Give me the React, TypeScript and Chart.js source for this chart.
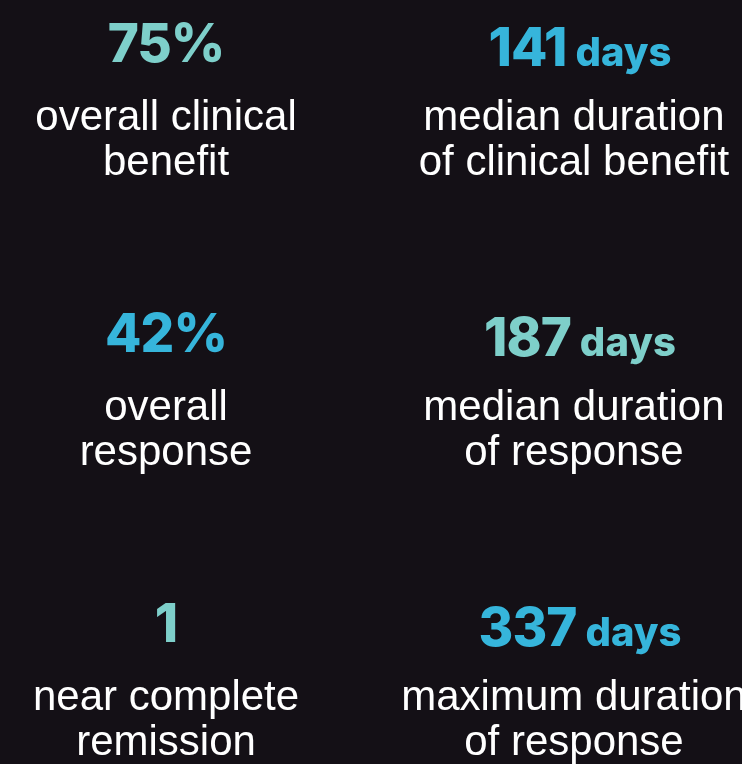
import React, { useEffect, useRef } from "react";
import { Chart, registerables } from "chart.js";
Chart.register(...registerables);

const statValues = ["75%", "141", "42%", "187", "1", "337"];
const statUnits = ["", "days", "", "days", "", "days"];
const statLabels = [
  ["overall clinical", "benefit"],
  ["median duration", "of clinical benefit"],
  ["overall", "response"],
  ["median duration", "of response"],
  ["near complete", "remission"],
  ["maximum duration", "of response"],
];
const statColumns = [0, 1, 0, 1, 0, 1];
const statRows = [0, 0, 1, 1, 2, 2];
const statColors = ["#7ecfca", "#36b5db", "#36b5db", "#7ecfca", "#7ecfca", "#36b5db"];

const BG = "#141016";
const NUM_FONT = "800 53px Inter";
const UNIT_FONT = "800 40px Inter";

const statPlugin = {
  id: "statText",
  beforeDraw(chart: any) {
    const { ctx, width, height } = chart;
    ctx.save();
    ctx.fillStyle = BG;
    ctx.fillRect(0, 0, width, height);
    ctx.restore();
  },
  afterDatasetsDraw(chart: any) {
    const { ctx } = chart;
    const meta = chart.getDatasetMeta(0);
    meta.data.forEach((pt: any, i: number) => {
      const cx = pt.x;
      const cy = pt.y;
      const hasUnit = !!statUnits[i];
      ctx.save();
      ctx.textBaseline = "alphabetic";
      ctx.font = NUM_FONT;
      (ctx as any).letterSpacing = "-1px";
      const numW = ctx.measureText(statValues[i]).width;
      let unitW = 0;
      const gap = hasUnit ? 9 : 0;
      if (hasUnit) {
        ctx.font = UNIT_FONT;
        (ctx as any).letterSpacing = "0px";
        unitW = ctx.measureText(statUnits[i]).width;
      }
      const start = cx + (hasUnit ? 4 : 0) - (numW + gap + unitW) / 2;
      const numY = cy + (hasUnit ? 2 : -2);
      ctx.textAlign = "left";
      ctx.fillStyle = statColors[i];
      ctx.font = NUM_FONT;
      (ctx as any).letterSpacing = "-1px";
      ctx.fillText(statValues[i], start, numY);
      if (hasUnit) {
        ctx.font = UNIT_FONT;
        (ctx as any).letterSpacing = "0px";
        ctx.fillText(statUnits[i], start + numW + gap, numY);
      }
      (ctx as any).letterSpacing = "0px";
      ctx.font = "42px 'Liberation Sans', Arial, sans-serif";
      ctx.fillStyle = "#ffffff";
      ctx.textAlign = "center";
      statLabels[i].forEach((line, j) => {
        ctx.fillText(line, cx - (hasUnit ? 2 : 0), cy + 66 + j * 45);
      });
      ctx.restore();
    });
  },
};

export default function App() {
  const ref = useRef<HTMLCanvasElement | null>(null);
  useEffect(() => {
    document.body.style.margin = "0";
    document.body.style.background = BG;
    const chart = new Chart(ref.current as HTMLCanvasElement, {
      type: "scatter",
      data: {
        datasets: [
          {
            data: statColumns.map((c, i) => ({ x: c, y: statRows[i] })),
            pointRadius: 0,
            pointHoverRadius: 0,
          },
        ],
      },
      options: {
        animation: false,
        responsive: true,
        maintainAspectRatio: false,
        layout: { padding: 0 },
        plugins: { legend: { display: false }, tooltip: { enabled: false } },
        scales: {
          x: { type: "linear", min: -0.405, max: 1.405, display: false },
          y: { type: "linear", min: -0.2207, max: 2.4138, reverse: true, display: false },
        },
      },
      plugins: [statPlugin],
    });
    return () => chart.destroy();
  }, []);
  return (
    <div style={{ width: 742, height: 764, position: "relative", background: BG }}>
      <canvas ref={ref} />
    </div>
  );
}
